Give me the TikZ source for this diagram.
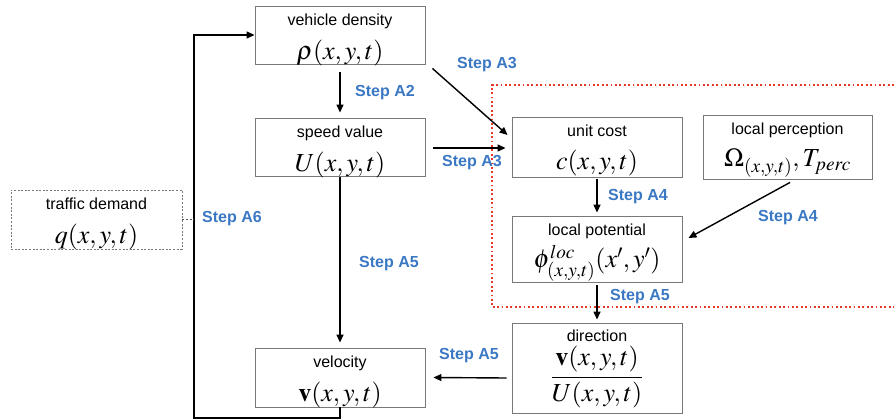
\documentclass[tikz,border=0pt]{standalone}
\usepackage{mathptmx}
\usepackage{fontspec}
\setmainfont{Liberation Sans}
\usetikzlibrary{arrows.meta}
\definecolor{stepblue}{RGB}{58,120,196}
\definecolor{boxgray}{RGB}{120,120,120}
\definecolor{zonered}{RGB}{232,56,44}
\tikzset{
  stagebox/.style={draw=boxgray, line width=0.9pt, inner sep=0pt,
    minimum width=170pt},
  dembox/.style={stagebox, dash pattern=on 2pt off 1.6pt},
  lbltext/.style={anchor=base, inner sep=0pt, font=\fontsize{16}{19}\selectfont},
  mathtext/.style={anchor=base, inner sep=0pt, font=\fontsize{26}{30}\selectfont},
  flow/.style={line width=1.4pt, -{Triangle[length=8pt,width=7pt]}},
  steplbl/.style={text=stepblue, font=\bfseries\fontsize{16}{19}\selectfont, inner sep=0pt},
  zone/.style={draw=zonered, line width=1.9pt, dash pattern=on 1.8pt off 2.6pt},
}
\begin{document}
\begin{tikzpicture}[x=1pt,y=-1pt]
\useasboundingbox (0,0) rectangle (894,420);

% processing zone (open on the right)
\draw[zone] (894,85) -- (492,85) -- (492,307) -- (894,307);

% stage boxes
\node[stagebox, minimum height=58pt] (dens) at (340,35) {};
\node[stagebox, minimum height=58pt] (speed) at (340,147) {};
\node[stagebox, minimum height=59pt] (vel) at (340,377.5) {};
\node[dembox, minimum width=171pt, minimum height=59pt] (dem) at (96.5,219.5) {};
\node[stagebox, minimum height=60pt] (cost) at (597,147) {};
\node[stagebox, minimum width=169pt, minimum height=64pt] (perc) at (787.5,147) {};
\node[stagebox, minimum height=66pt] (pot) at (597,249) {};
\node[stagebox, minimum height=90pt] (dir) at (597,368) {};

% box captions and quantities
\node[lbltext] (dens-l) at ([shift={(0,20)}]dens.north) {vehicle density};
\node[mathtext] (dens-m) at ([shift={(0,54)}]dens.north) {$\rho(x,y,t)$};
\node[lbltext] (speed-l) at ([shift={(0,20)}]speed.north) {speed value};
\node[mathtext] (speed-m) at ([shift={(0,54)}]speed.north) {$U(x,y,t)$};
\node[lbltext] (vel-l) at ([shift={(0,20)}]vel.north) {velocity};
\node[mathtext] (vel-m) at ([shift={(0,54)}]vel.north) {$\mathbf{v}(x,y,t)$};
\node[lbltext] (dem-l) at ([shift={(0,20)}]dem.north) {traffic demand};
\node[mathtext] (dem-m) at ([shift={(0,54)}]dem.north) {$q(x,y,t)$};
\node[lbltext] (cost-l) at ([shift={(0,20)}]cost.north) {unit cost};
\node[mathtext] (cost-m) at ([shift={(0,53)}]cost.north) {$c(x,y,t)$};
\node[lbltext] (perc-l) at ([shift={(0,20)}]perc.north) {local perception};
\node[mathtext] (perc-m) at ([shift={(0,52)}]perc.north) {$\Omega_{(x,y,t)}, T_{perc}$};
\node[lbltext] (pot-l) at ([shift={(0,20)}]pot.north) {local potential};
\node[mathtext] (pot-m) at ([shift={(0,52)}]pot.north) {$\phi^{loc}_{(x,y,t)}(x',y')$};
\node[lbltext] (dir-l) at ([shift={(0,19)}]dir.north) {direction};
\node[mathtext] (dir-m) at ([shift={(0,61)}]dir.north) {$\displaystyle\frac{\mathbf{v}(x,y,t)}{U(x,y,t)}$};

% connectors
\draw[flow] ([shift={(0,8)}]dens.south) -- ([shift={(0,-5)}]speed.north);
\draw[flow] ([shift={(7,4)}]dens.south east) -- ([shift={(-4,-12)}]cost.west);
\draw[flow] ([shift={(8,1)}]speed.east) -- ([shift={(-6,1)}]cost.west);
\draw[flow] ([shift={(0,1)}]speed.south) -- ([shift={(0,-5)}]vel.north);
\draw[flow] ([shift={(0,2)}]cost.south) -- ([shift={(0,-3)}]pot.north);
\draw[flow] ([shift={(2.5,3)}]perc.south) -- ([shift={(6,-11)}]pot.east);
\draw[flow] ([shift={(0,3)}]pot.south) -- ([shift={(0,-3)}]dir.north);
\draw[flow] ([shift={(-5,10)}]dir.west) -- ([shift={(8,0)}]vel.east);

% feedback loop from velocity back to density
\coordinate (loopbl) at (194,418);
\draw[flow] (vel.south) |- (loopbl) |- (dens.west);
\coordinate (demjoin) at (194,219.5);
\draw[boxgray!70!black, line width=0.9pt, dash pattern=on 2pt off 1.6pt] (dem.east) -- (demjoin);

% step labels
\node[steplbl] (a3top) at (487,65) {Step A3};
\node[steplbl] (a2) at (385,93) {Step A2};
\node[steplbl] (a3low) at (472,163) {Step A3};
\node[steplbl] (a5left) at (389,264) {Step A5};
\node[steplbl] (a4mid) at (638,197) {Step A4};
\node[steplbl] (a4right) at (788,218) {Step A4};
\node[steplbl] (a5mid) at (640,297) {Step A5};
\node[steplbl] (a5low) at (469,356) {Step A5};
\node[steplbl] (a6) at (232,219) {Step A6};
\end{tikzpicture}
\end{document}
